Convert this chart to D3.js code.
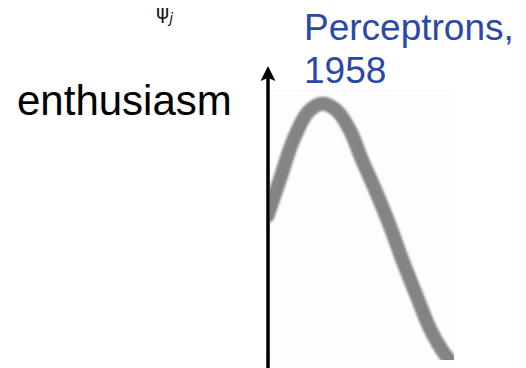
<!DOCTYPE html>
<html>
<head>
<meta charset="utf-8">
<script src="https://cdn.jsdelivr.net/npm/d3@7"></script>
<style>
  html, body { margin: 0; padding: 0; background: #fff; }
  svg { display: block; }
</style>
</head>
<body>
<svg id="chart" width="526" height="368"></svg>
<script>
// Enthusiasm over time (arbitrary units), around the Perceptrons era
const timeSteps = [-0.2, 0.5, 1.25, 2.1, 2.9, 3.7, 4.45, 5.15, 5.9, 6.7, 7.45, 8.3, 9.0, 9.85, 10.8];
const enthusiasm = [5.0, 6.2, 7.5, 8.45, 8.72, 8.5, 7.85, 6.85, 5.85, 4.7, 3.5, 2.25, 1.25, 0.4, -0.2];

const titleLines = ["Perceptrons,", "1958"];
const axisLabel = "enthusiasm";
const symbol = "ψ";
const symbolIndex = "j";

const svg = d3.select("#chart");

// Scales for the sketch panel
const x = d3.scaleLinear().domain([0, 10]).range([271, 448]);
const y = d3.scaleLinear().domain([0, 10]).range([367, 65]);

// Panel background and clip
const defs = svg.append("defs");
defs.append("clipPath").attr("id", "panel")
  .append("rect").attr("x", 270).attr("y", 91).attr("width", 184).attr("height", 269);
defs.append("filter").attr("id", "soft")
  .attr("x", "-20%").attr("y", "-20%").attr("width", "140%").attr("height", "140%")
  .append("feGaussianBlur").attr("stdDeviation", 1.3);

svg.append("rect")
  .attr("x", 270).attr("y", 91).attr("width", 184).attr("height", 269)
  .attr("fill", "#fdfdfd")
  .attr("stroke", "#f4f4f4").attr("stroke-width", 0.8);

// Enthusiasm curve
const line = d3.line()
  .x((d, i) => x(timeSteps[i]))
  .y(d => y(d))
  .curve(d3.curveCatmullRom.alpha(0.5));

svg.append("g").attr("clip-path", "url(#panel)")
  .append("path")
  .datum(enthusiasm)
  .attr("d", line)
  .attr("fill", "none")
  .attr("stroke", "#848484")
  .attr("stroke-width", 14)
  .attr("stroke-linecap", "round")
  .attr("filter", "url(#soft)");

// Vertical axis arrow
const ax = 268;
svg.append("line")
  .attr("x1", ax).attr("x2", ax)
  .attr("y1", 368).attr("y2", 78)
  .attr("stroke", "#000").attr("stroke-width", 3.5);
svg.append("path")
  .attr("d", `M${ax},66 L${ax - 7.5},81 L${ax},78 L${ax + 7.5},81 Z`)
  .attr("fill", "#000");

// Axis label
svg.append("text")
  .attr("x", 17).attr("y", 115)
  .attr("font-family", "'Liberation Sans', Arial, sans-serif")
  .attr("font-size", 42)
  .attr("fill", "#000")
  .text(axisLabel);

// Event label
const title = svg.append("text")
  .attr("x", 304).attr("y", 40)
  .attr("font-family", "'Liberation Sans', Arial, sans-serif")
  .attr("font-size", 37)
  .attr("fill", "#2a48a6");
titleLines.forEach((t, i) => {
  title.append("tspan").attr("x", 304).attr("dy", i === 0 ? 0 : 43).text(t);
});

// Basis function symbol
const sym = svg.append("text")
  .attr("x", 156).attr("y", 19)
  .attr("font-family", "'DejaVu Sans', sans-serif")
  .attr("font-size", 20)
  .attr("fill", "#111");
sym.append("tspan").text(symbol);
sym.append("tspan")
  .attr("dy", 4).attr("font-size", 14).attr("font-style", "italic")
  .text(symbolIndex);
</script>
</body>
</html>
